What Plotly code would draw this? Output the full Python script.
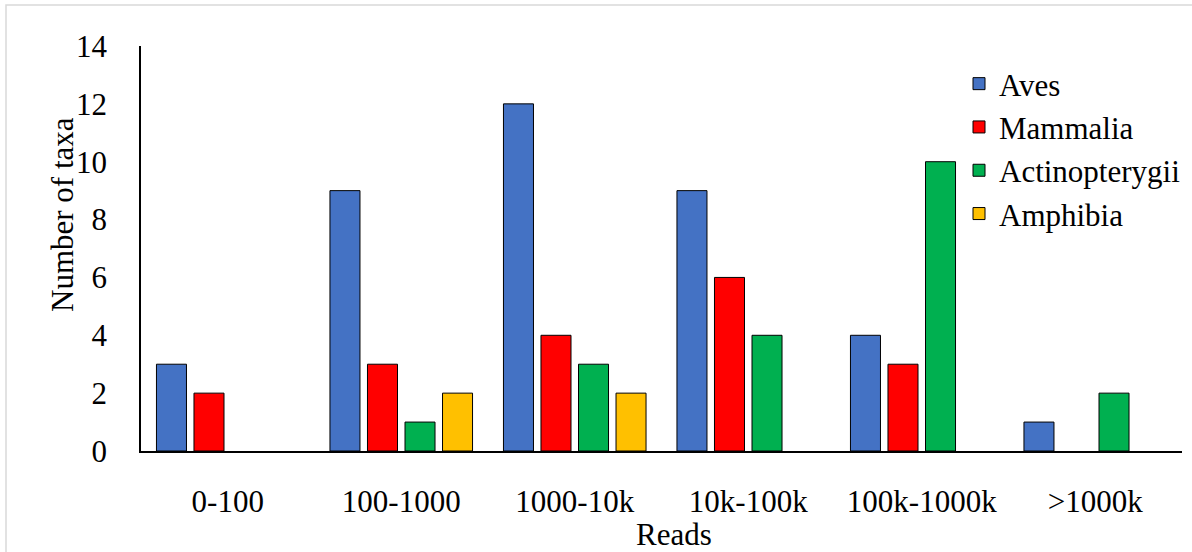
import plotly.graph_objects as go

# Read-count bins and number of taxa per class
categories = ["0-100", "100-1000", "1000-10k", "10k-100k", "100k-1000k", ">1000k"]
aves = [3, 9, 12, 9, 4, 1]
mammalia = [2, 3, 4, 6, 3, 0]
actinopterygii = [0, 1, 3, 4, 10, 2]
amphibia = [0, 2, 2, 0, 0, 0]

series = [
    ("Aves", aves, "#4472C4"),
    ("Mammalia", mammalia, "#FF0000"),
    ("Actinopterygii", actinopterygii, "#00B050"),
    ("Amphibia", amphibia, "#FFC000"),
]

FONT = "Times New Roman"
FS = 31
W, H = 1192, 552
ML, MR, MT, MB = 141, 10, 46, 101
PW, PH = W - ML - MR, H - MT - MB


def px_x(x):
    return (x - ML) / PW


def px_y(y):
    return (H - MB - y) / PH


fig = go.Figure()
for name, vals, color in series:
    # empty bins are left blank rather than drawn as flat outlines
    fig.add_trace(go.Bar(
        name=name, x=categories, y=[v if v else None for v in vals],
        marker=dict(color=color, line=dict(color="#000000", width=1)),
    ))

fig.update_layout(
    width=W, height=H,
    margin=dict(l=ML, r=MR, t=MT, b=MB, autoexpand=False),
    paper_bgcolor="white", plot_bgcolor="white",
    barmode="group", bargap=0.135, bargroupgap=0.2,
    font=dict(family=FONT, size=FS, color="#000000"),
    showlegend=True,
    legend=dict(x=px_x(959), y=px_y(57), xanchor="left", yanchor="top",
                font=dict(family=FONT, size=FS), bgcolor="rgba(0,0,0,0)",
                tracegroupgap=0, itemclick=False),
    xaxis=dict(showline=True, linecolor="#000000", linewidth=2,
               showgrid=False, ticks="", ticklabelstandoff=22,
               tickfont=dict(family=FONT, size=FS)),
    yaxis=dict(range=[0, 14], dtick=2, showline=True, linecolor="#000000",
               linewidth=1.5, showgrid=False, zeroline=False, ticks="",
               ticklabelstandoff=26, tickfont=dict(family=FONT, size=FS)),
    shapes=[dict(type="rect", xref="paper", yref="paper",
                 x0=px_x(6), x1=px_x(1205), y0=px_y(570), y1=px_y(5),
                 line=dict(color="#D9D9D9", width=1.5), fillcolor="rgba(0,0,0,0)",
                 layer="below")],
    annotations=[
        dict(text="Number of taxa", xref="paper", yref="paper",
             x=px_x(62), y=px_y(215), textangle=-90, showarrow=False,
             font=dict(family=FONT, size=FS), xanchor="center", yanchor="middle"),
        dict(text="Reads", xref="paper", yref="paper",
             x=px_x(674), y=px_y(534), showarrow=False,
             font=dict(family=FONT, size=FS), xanchor="center", yanchor="middle"),
    ],
)

fig.write_html("out.html")
